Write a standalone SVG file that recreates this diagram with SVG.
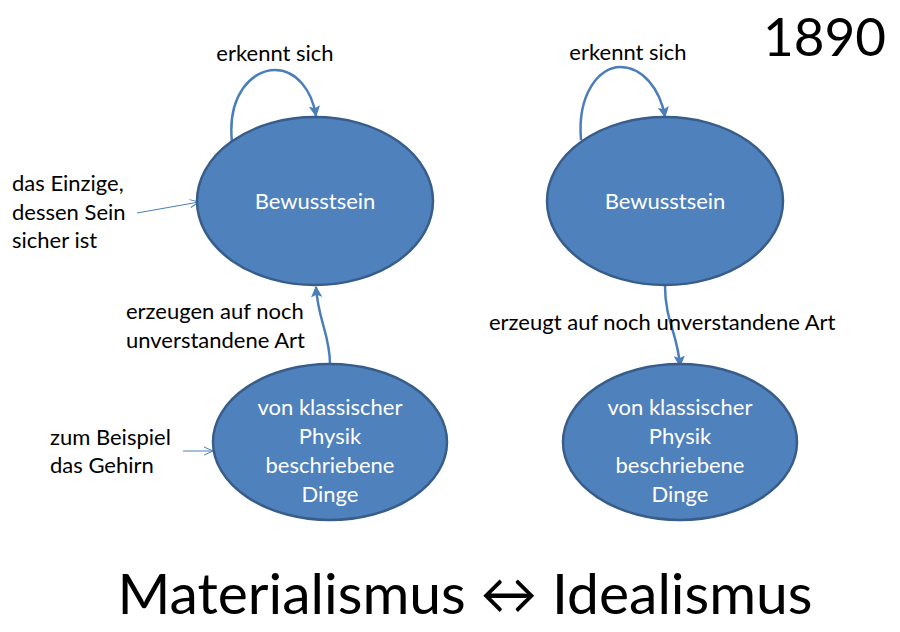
<svg xmlns="http://www.w3.org/2000/svg" width="900" height="632" viewBox="0 0 900 632">
<defs>
<style>
.node{fill:#4F81BD;stroke:#385D8A;stroke-width:2.5}
.nt{font-family:Lato,"Open Sans",sans-serif;font-size:22px;fill:#fff;text-anchor:middle}
.lb{font-family:Lato,"Open Sans",sans-serif;font-size:22px;fill:#000}
.edge{fill:none;stroke:#4A7EBB;stroke-width:2.5}
.thin{fill:none;stroke:#4A7EBB;stroke-width:1}
</style>
<marker id="ah" viewBox="0 0 10 10" refX="9" refY="5" markerWidth="4.5" markerHeight="4.5" orient="auto" markerUnits="strokeWidth">
<path d="M0,0 L10,5 L0,10 L2,5 Z" fill="#4A7EBB"/>
</marker>
<marker id="ao" viewBox="0 0 10 10" refX="10" refY="5" markerWidth="10" markerHeight="10" orient="auto" markerUnits="strokeWidth">
<path d="M1,1 L10,5 L1,9" fill="none" stroke="#4A7EBB" stroke-width="1"/>
</marker>
</defs>
<rect width="900" height="632" fill="#fff"/>
<g id="connectors">
<path class="edge" d="M232,142 C227,95 252,70 275,70 C296,70 312,90 316,116" marker-end="url(#ah)"/>
<path class="edge" d="M581,140 C577,93 600,67 620,67 C642,67 660,88 665,117" marker-end="url(#ah)"/>
<path class="edge" d="M330,364 C330,335 318,320 316,287" marker-end="url(#ah)"/>
<path class="edge" d="M665,286 C665,320 678,335 680,366" marker-end="url(#ah)"/>
<path class="thin" d="M137,213 L199,202" marker-end="url(#ao)"/>
<path class="thin" d="M183,451 L213,451" marker-end="url(#ao)"/>
</g>
<g id="n1">
<ellipse class="node" cx="315" cy="201" rx="118" ry="84"/>
<text class="nt" x="315" y="209">Bewusstsein</text>
</g>
<g id="n2">
<ellipse class="node" cx="330" cy="442" rx="117" ry="78"/>
<text class="nt" x="330" y="415">von klassischer</text>
<text class="nt" x="330" y="444">Physik</text>
<text class="nt" x="330" y="473">beschriebene</text>
<text class="nt" x="330" y="502">Dinge</text>
</g>
<g id="n3">
<ellipse class="node" cx="665" cy="201" rx="118" ry="84"/>
<text class="nt" x="665" y="209">Bewusstsein</text>
</g>
<g id="n4">
<ellipse class="node" cx="680" cy="442" rx="117" ry="78"/>
<text class="nt" x="680" y="415">von klassischer</text>
<text class="nt" x="680" y="444">Physik</text>
<text class="nt" x="680" y="473">beschriebene</text>
<text class="nt" x="680" y="502">Dinge</text>
</g>
<g id="labels">
<text class="lb" x="275" y="61" text-anchor="middle">erkennt sich</text>
<text class="lb" x="628" y="60" text-anchor="middle">erkennt sich</text>
<text class="lb" x="12" y="191">das Einzige,</text>
<text class="lb" x="12" y="220">dessen Sein</text>
<text class="lb" x="12" y="248">sicher ist</text>
<text class="lb" x="126" y="319">erzeugen auf noch</text>
<text class="lb" x="126" y="348">unverstandene Art</text>
<text class="lb" x="489" y="330">erzeugt auf noch unverstandene Art</text>
<text class="lb" x="50" y="445">zum Beispiel</text>
<text class="lb" x="50" y="473">das Gehirn</text>
<text x="886" y="56" text-anchor="end" font-family="Lato,'Open Sans',sans-serif" font-size="53" fill="#000">1890</text>
<text x="465" y="614" text-anchor="middle" font-family="Lato,'Open Sans',sans-serif" font-size="57" fill="#000">Materialismus ↔ Idealismus</text>
</g>
</svg>
